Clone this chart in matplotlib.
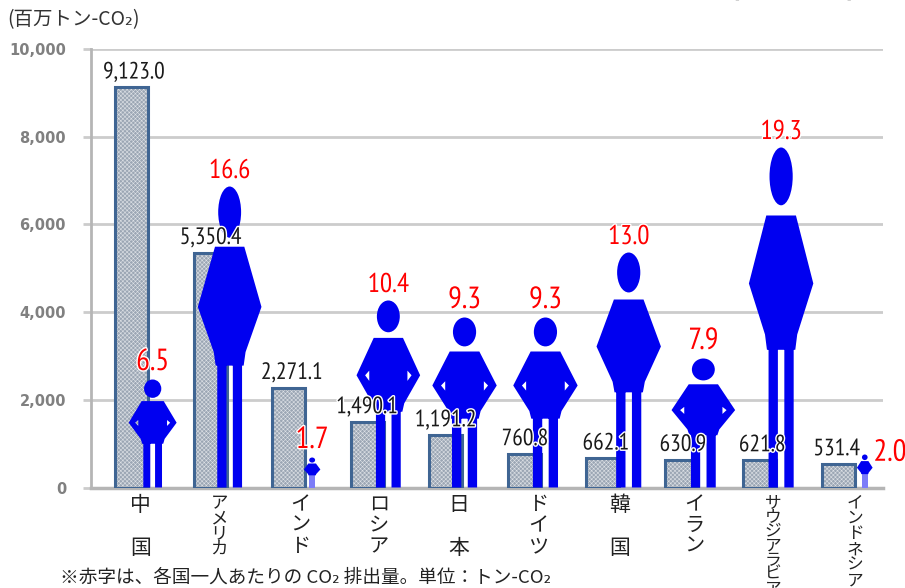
import matplotlib
matplotlib.use("Agg")
import matplotlib.pyplot as plt
import matplotlib.patheffects as pe
from matplotlib.patches import Ellipse, PathPatch
from matplotlib.path import Path

plt.rcParams["font.family"] = ["Noto Sans CJK JP", "DejaVu Sans"]
plt.rcParams["hatch.linewidth"] = 0.4

countries = ["中\n\n国", "ア\nメ\nリ\nカ", "イ\nン\nド", "ロ\nシ\nア", "日\n\n本",
             "ド\nイ\nツ", "韓\n\n国", "イ\nラ\nン", "サ\nウ\nジ\nア\nラ\nビ\nア",
             "イ\nン\nド\nネ\nシ\nア"]
emissions = [9123.0, 5350.4, 2271.1, 1490.1, 1191.2, 760.8, 662.1, 630.9, 621.8, 531.4]
per_capita = [6.5, 16.6, 1.7, 10.4, 9.3, 9.3, 13.0, 7.9, 19.3, 2.0]
yticks = [0, 2000, 4000, 6000, 8000, 10000]

# figure height of each person, read on the y axis scale
person_height = [2463, 6864, 684, 4265, 3877, 3877, 5359, 2942, 7754, 753]
person_halfw = [0.305, 0.405, 0.105, 0.405, 0.41, 0.41, 0.41, 0.405, 0.41, 0.10]
person_dx = [0.27, 0.25, 0.30, 0.27, 0.24, 0.27, 0.33, 0.28, 0.27, 0.335]
value_dx = [0.02, 0.0, 0.03, -0.01, -0.01, 0.0, 0.03, 0.01, 0.02, -0.03]
tick_dx = [0.12, 0.115, 0.145, 0.15, 0.165, 0.18, 0.215, 0.165, 0.165, 0.21]
label_size = [15, 12.5, 14.5, 14.5, 15, 14.5, 15, 14.5, 12, 12]
label_space = [0.98, 0.8, 1.0, 1.0, 0.98, 1.0, 0.98, 1.0, 0.8, 0.9]

BLUE = "#0000f0"
NARROW = ["PT Sans Narrow", "Liberation Sans", "DejaVu Sans"]


def person(ax, cx, h, hw):
    # shape is in fractions: u of half width, f of height from the top
    body = [(-0.46, 0.20), (0.46, 0.20), (1.0, 0.40), (0.50, 0.55), (0.44, 0.595),
            (-0.44, 0.595), (-0.50, 0.55), (-1.0, 0.40)]
    polys = [body]
    if 1000 < h < 4500:
        polys.append([(0.60, 0.43), (0.73, 0.40), (0.60, 0.375)])
        polys.append([(-0.60, 0.375), (-0.73, 0.40), (-0.60, 0.43)])
    if hw < 0.15:
        ax.fill_between([cx - 0.38 * hw, cx + 0.38 * hw], 0, h * 0.42, color="#7c7cf8", lw=0, zorder=4)
    else:
        polys.append([(0.10, 0.58), (0.39, 0.58), (0.39, 1.0), (0.10, 1.0)])
        polys.append([(-0.39, 0.58), (-0.10, 0.58), (-0.10, 1.0), (-0.39, 1.0)])
    verts, codes = [], []
    for poly in polys:
        pts = [(cx + u * hw, h * (1 - f)) for u, f in poly]
        verts += pts + [pts[0]]
        codes += [Path.MOVETO] + [Path.LINETO] * (len(pts) - 1) + [Path.CLOSEPOLY]
    ax.add_patch(PathPatch(Path(verts, codes), fc=BLUE, ec="none", zorder=4, clip_on=False))
    ax.add_patch(Ellipse((cx, h * 0.915), hw * 0.72, h * 0.17, fc=BLUE, ec="none", zorder=4))


fig = plt.figure(figsize=(9.05, 5.88), dpi=100)
ax = fig.add_axes([91 / 905, 1 - 487.5 / 588, 792 / 905, 438.5 / 588])

x = list(range(len(countries)))
ax.set_xlim(-0.515, 9.567)
ax.set_ylim(0, 10000)

ax.bar(x, emissions, width=0.42, color="#9ba6b4", edgecolor="#dde1e6", hatch="xxxxxxxx",
       linewidth=0, zorder=2)
ax.bar(x, emissions, width=0.42, fill=False, edgecolor="#3f6593", linewidth=2.2, zorder=3)

for i in x:
    cx = i + person_dx[i]
    person(ax, cx, person_height[i], person_halfw[i])
    ax.text(i + value_dx[i] + 0.01, emissions[i] + 90, f"{emissions[i]:,.1f}", ha="center", va="bottom",
            fontsize=17, family=NARROW, color="#1a1a1a", zorder=5,
            path_effects=[pe.withStroke(linewidth=2, foreground="white")])
    if i == 9:
        tx, ty = cx + 0.32, person_height[i] - 280
    else:
        tx, ty = cx, person_height[i] + 80
    # the short per capita labels are drawn larger in the source
    red_size = 22 if per_capita[i] < 10 else 19.5
    ax.text(tx, ty, f"{per_capita[i]:.1f}", ha="center", va="bottom", fontsize=red_size,
            family=NARROW, color="#ff0000", zorder=6,
            path_effects=[pe.withStroke(linewidth=2, foreground="white")])
    ax.text(i + tick_dx[i], -150, countries[i], ha="center", va="top", fontsize=label_size[i],
            linespacing=label_space[i], color="#222222", zorder=5, clip_on=False)

ax.set_xticks([])
ax.set_yticks(yticks)
ax.set_yticklabels([f"{v:,}" for v in yticks], family="DejaVu Sans", fontweight="bold",
                   fontsize=10.5, color="#808080")
ax.tick_params(axis="y", length=6, width=2, color="#cccccc", pad=12)
ax.grid(axis="y", color="#cccccc", linewidth=2, zorder=1)
ax.set_axisbelow(True)
for s in ["top", "right"]:
    ax.spines[s].set_visible(False)
ax.spines["left"].set_color("#b5b5b5")
ax.spines["left"].set_linewidth(2)
ax.spines["bottom"].set_color("#b5b5b5")
ax.spines["bottom"].set_linewidth(2.5)

fig.text(7 / 905, 1 - 20 / 588, "(百万トン-CO₂)", fontsize=14, color="#333333", va="center")
fig.text(60 / 905, 1 - 578 / 588, "※赤字は、各国一人あたりの CO₂ 排出量。単位：トン-CO₂",
         fontsize=13.4, color="#222222", va="center")
fig.text(736 / 905, 1 - 1 / 588, "[", fontsize=12, color="#222222", ha="center", va="bottom")
fig.text(849 / 905, 1 - 1 / 588, "]", fontsize=12, color="#222222", ha="center", va="bottom")

fig.savefig("out.png", dpi=100)
plt.close(fig)
